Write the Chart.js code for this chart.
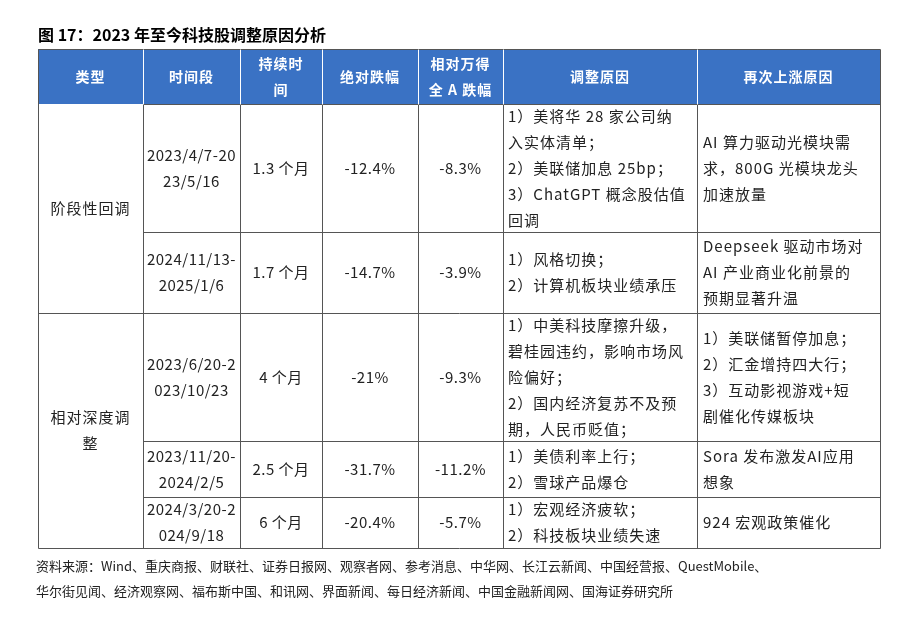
<!DOCTYPE html>
<html><head><meta charset="utf-8">
<script src="https://cdn.jsdelivr.net/npm/chart.js@4.4.0/dist/chart.umd.min.js"></script>
<style>body{margin:0;background:#fff}#wrap{width:920px;height:624px;position:relative}</style>
</head><body><div id="wrap"><canvas id="c" width="920" height="624"></canvas></div>
<script>
    // 表格数据
    const title = '图 17：2023 年至今科技股调整原因分析';
    const headers = [['类型'], ['时间段'], ['持续时', '间'], ['绝对跌幅'], ['相对万得', '全 A 跌幅'], ['调整原因'], ['再次上涨原因']];
    const groups = [['阶段性回调'], ['相对深度调', '整']];
    const groupSpans = [2, 3];
    const periods = [['2023/4/7-20', '23/5/16'], ['2024/11/13-', '2025/1/6'], ['2023/6/20-2', '023/10/23'], ['2023/11/20-', '2024/2/5'], ['2024/3/20-2', '024/9/18']];
    const durations = ['1.3 个月', '1.7 个月', '4 个月', '2.5 个月', '6 个月'];
    const absDrop = ['-12.4%', '-14.7%', '-21%', '-31.7%', '-20.4%'];
    const relDrop = ['-8.3%', '-3.9%', '-9.3%', '-11.2%', '-5.7%'];
    const reasons = [
        ['1）美将华 28 家公司纳', '入实体清单；', '2）美联储加息 25bp；', '3）ChatGPT 概念股估值', '回调'],
        ['1）风格切换；', '2）计算机板块业绩承压'],
        ['1）中美科技摩擦升级，', '碧桂园违约，影响市场风', '险偏好；', '2）国内经济复苏不及预', '期，人民币贬值；'],
        ['1）美债利率上行；', '2）雪球产品爆仓'],
        ['1）宏观经济疲软；', '2）科技板块业绩失速']
    ];
    const riseReasons = [
        ['AI 算力驱动光模块需', '求，800G 光模块龙头', '加速放量'],
        ['Deepseek 驱动市场对', 'AI 产业商业化前景的', '预期显著升温'],
        ['1）美联储暂停加息；', '2）汇金增持四大行；', '3）互动影视游戏+短', '剧催化传媒板块'],
        ['Sora 发布激发AI应用', '想象'],
        ['924 宏观政策催化']
    ];
    const source = ['资料来源：Wind、重庆商报、财联社、证券日报网、观察者网、参考消息、中华网、长江云新闻、中国经营报、QuestMobile、',
                    '华尔街见闻、经济观察网、福布斯中国、和讯网、界面新闻、每日经济新闻、中国金融新闻网、国海证券研究所'];

    // 布局（表格坐标单位）
    const colEdges = [0, 105, 202, 284, 380, 465, 659, 842];
    const rowEdges = [0, 55, 183, 264, 392, 448, 499];
    const FONT = '"Noto Sans CJK SC", "Noto Sans", sans-serif';

    const tablePlugin = {
        id: 'table',
        afterDraw(chart) {
            const c = chart.ctx, xs = chart.scales.x, ys = chart.scales.y;
            const X = v => xs.getPixelForValue(v), Y = v => ys.getPixelForValue(v);
            c.save();
            // 标题
            c.fillStyle = '#000';
            c.font = 'bold 16px ' + FONT;
            c.textBaseline = 'middle';
            c.textAlign = 'left';
            c.fillText(title, X(0), Y(0) - 14);
            // 表头
            c.fillStyle = '#3a72c4';
            c.fillRect(X(0), Y(0), X(842) - X(0), Y(55) - Y(0));
            const lines = (arr, cx, cy, align, left) => {
                const lh = 26;
                arr.forEach((t, i) => {
                    c.textAlign = align;
                    c.fillText(t, align === 'left' ? left : cx, cy + (i - (arr.length - 1) / 2) * lh);
                });
            };
            c.font = 'bold 14px ' + FONT;
            c.letterSpacing = '1px';
            c.fillStyle = '#fff';
            headers.forEach((h, i) => lines(h, (X(colEdges[i]) + X(colEdges[i + 1])) / 2, (Y(0) + Y(55)) / 2, 'center'));
            // 网格线
            c.strokeStyle = '#555';
            c.lineWidth = 1;
            const line = (x1, y1, x2, y2) => { c.beginPath(); c.moveTo(x1 + .5, y1 + .5); c.lineTo(x2 + .5, y2 + .5); c.stroke(); };
            colEdges.forEach(v => line(X(v), Y(0), X(v), Y(499)));
            rowEdges.forEach((v, i) => line(i === 0 || i === 3 || i === 6 ? X(0) : X(colEdges[1]), Y(v), X(842), Y(v)));
            c.strokeStyle = '#fff';
            colEdges.slice(1, -1).forEach(v => line(X(v), Y(0), X(v), Y(55)));
            // 内容
            c.font = '15px ' + FONT;
            c.fillStyle = '#222';
            let r = 0;
            groups.forEach((g, gi) => {
                const top = rowEdges[r + 1], bot = rowEdges[r + 1 + groupSpans[gi]];
                lines(g, (X(0) + X(105)) / 2, (Y(top) + Y(bot)) / 2, 'center');
                r += groupSpans[gi];
            });
            periods.forEach((p, i) => {
                const cy = (Y(rowEdges[i + 1]) + Y(rowEdges[i + 2])) / 2;
                const mid = k => (X(colEdges[k]) + X(colEdges[k + 1])) / 2;
                c.letterSpacing = '0.5px';
                lines(p, mid(1), cy, 'center');
                lines([durations[i]], mid(2), cy, 'center');
                lines([absDrop[i]], mid(3), cy, 'center');
                lines([relDrop[i]], mid(4), cy, 'center');
                c.letterSpacing = '1px';
                lines(reasons[i], 0, cy, 'left', X(colEdges[5]) + 5);
                lines(riseReasons[i], 0, cy, 'left', X(colEdges[6]) + 6);
            });
            // 资料来源
            c.letterSpacing = '0px';
            c.font = '13px ' + FONT;
            c.textAlign = 'left';
            c.fillStyle = '#222';
            c.fillText(source[0], X(0) - 2, Y(499) + 18);
            c.fillText(source[1], X(0) - 2, Y(499) + 43);
            c.restore();
        }
    };

    new Chart(document.getElementById('c'), {
        type: 'scatter',
        data: { datasets: [{ data: [] }] },
        options: {
            responsive: false,
            animation: false,
            layout: { padding: { left: 38, right: 40, top: 49, bottom: 76 } },
            plugins: { legend: { display: false }, tooltip: { enabled: false } },
            scales: {
                x: { type: 'linear', min: 0, max: 842, display: false },
                y: { type: 'linear', min: 0, max: 499, reverse: true, display: false }
            }
        },
        plugins: [tablePlugin]
    });
</script></body></html>
